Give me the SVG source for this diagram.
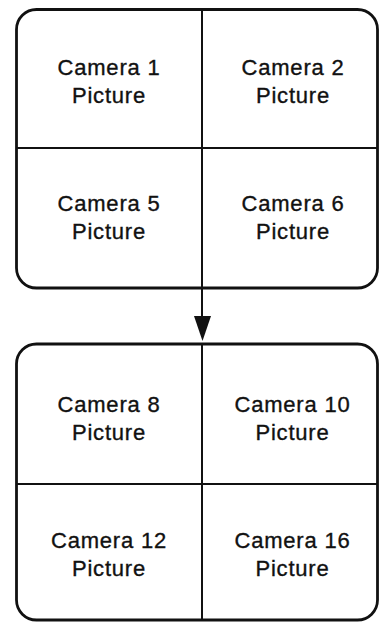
<svg xmlns="http://www.w3.org/2000/svg" width="379" height="622" viewBox="0 0 379 622">
<style>
.frame{fill:none;stroke:#111;stroke-width:2.8}
.div{stroke:#111;stroke-width:2}
.t{font-family:"Liberation Sans",Arial,sans-serif;font-size:22px;fill:#111;stroke:#111;stroke-width:0.35;text-anchor:middle;letter-spacing:0.8px}
</style>
<rect width="379" height="622" fill="#fff"/>
<g id="screen1">
<rect class="frame" x="16.5" y="9.5" width="361" height="278.5" rx="20"/>
<line class="div" x1="16.5" y1="148" x2="377.5" y2="148"/>
<line class="div" x1="202" y1="9.5" x2="202" y2="288"/>
<g id="cam1"><text class="t" x="109" y="75">Camera 1</text><text class="t" x="109" y="103">Picture</text></g>
<g id="cam2"><text class="t" x="293" y="75">Camera 2</text><text class="t" x="293" y="103">Picture</text></g>
<g id="cam5"><text class="t" x="109" y="211">Camera 5</text><text class="t" x="109" y="239">Picture</text></g>
<g id="cam6"><text class="t" x="293" y="211">Camera 6</text><text class="t" x="293" y="239">Picture</text></g>
</g>
<g id="screen2">
<rect class="frame" x="16.5" y="344" width="361" height="276" rx="20"/>
<line class="div" x1="16.5" y1="484" x2="377.5" y2="484"/>
<line class="div" x1="202" y1="344" x2="202" y2="620"/>
<g id="cam8"><text class="t" x="109" y="412">Camera 8</text><text class="t" x="109" y="440">Picture</text></g>
<g id="cam10"><text class="t" x="292.5" y="412">Camera 10</text><text class="t" x="292.5" y="440">Picture</text></g>
<g id="cam12"><text class="t" x="109" y="548">Camera 12</text><text class="t" x="109" y="576">Picture</text></g>
<g id="cam16"><text class="t" x="292.5" y="548">Camera 16</text><text class="t" x="292.5" y="576">Picture</text></g>
</g>
<g id="connectors">
<line class="div" x1="202" y1="288" x2="202" y2="318"/>
<polygon points="194,316 211,316 202.5,341" fill="#111"/>
</g>
</svg>
